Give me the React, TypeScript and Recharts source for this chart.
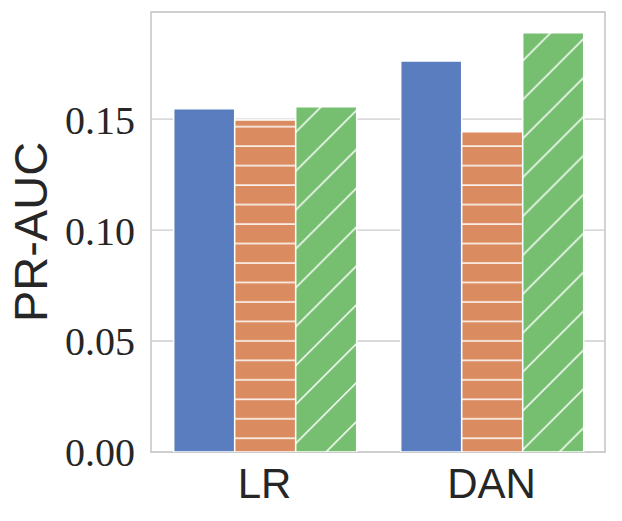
import React from 'react';
import {
  BarChart,
  Bar,
  XAxis,
  YAxis,
  CartesianGrid,
  ReferenceArea,
} from 'recharts';

// values
const categories = ['LR', 'DAN'];
const solidValues = [0.1547, 0.1762];
const hLineValues = [0.1496, 0.1443];
const diagValues = [0.1556, 0.1889];
const yTicks = [0, 0.05, 0.1, 0.15];
const yMax = 0.1983;

const data = categories.map((name, i) => ({
  name,
  solid: solidValues[i],
  hline: hLineValues[i],
  diag: diagValues[i],
}));

const BLUE = '#597DBF';
const ORANGE = '#DA8B5F';
const GREEN = '#76BF71';
const GRID = '#cccccc';
const TEXT = '#262626';

const HATCH_H = 19.475;
const HATCH_D = 38.9;

const YTick = ({ x, y, payload }: any) => (
  <text
    x={x}
    y={y}
    dy="0.36em"
    textAnchor="end"
    fill={TEXT}
    fontFamily="'Liberation Serif', serif"
    fontSize={40}
  >
    {Number(payload.value).toFixed(2)}
  </text>
);

const XTick = ({ x, y, payload }: any) => (
  <text
    x={x}
    y={y}
    dy="0.71em"
    textAnchor="middle"
    fill={TEXT}
    fontFamily="'Liberation Sans', sans-serif"
    fontSize={42}
  >
    {payload.value}
  </text>
);

const YLabel = () => (
  <text
    transform="translate(47,232) rotate(-90)"
    textAnchor="middle"
    fill={TEXT}
    fontFamily="'Liberation Sans', sans-serif"
    fontSize={47}
  >
    PR-AUC
  </text>
);

export default function App() {
  return (
    <div style={{ position: 'absolute', left: 0, top: 0 }}>
      <BarChart
        width={622}
        height={521}
        data={data}
        margin={{ top: 12, right: 17, left: 0, bottom: 0 }}
        barCategoryGap="10%"
        barGap={0}
      >
        <defs>
          <pattern id="hatchH" patternUnits="userSpaceOnUse" width={20} height={HATCH_H}>
            <rect x={0} y={0} width={20} height={HATCH_H} fill={ORANGE} />
            <line x1={-1} y1={9.85} x2={21} y2={9.85} stroke="#fff" strokeWidth={1.5} />
          </pattern>
          <pattern id="hatchD" patternUnits="userSpaceOnUse" width={HATCH_D} height={HATCH_D}>
            <rect x={0} y={0} width={HATCH_D} height={HATCH_D} fill={GREEN} />
            <path
              d={`M0,${HATCH_D} L${HATCH_D},0 M-2,2 L2,-2 M${HATCH_D - 2},${HATCH_D + 2} L${HATCH_D + 2},${HATCH_D - 2}`}
              stroke="#fff"
              strokeWidth={1.5}
            />
          </pattern>
        </defs>
        <CartesianGrid vertical={false} stroke={GRID} strokeWidth={1.4} />
        <XAxis
          dataKey="name"
          height={69}
          axisLine={false}
          tickLine={false}
          tickSize={6}
          tickMargin={10}
          tick={<XTick />}
        />
        <YAxis
          width={151}
          domain={[0, yMax]}
          ticks={yTicks}
          allowDataOverflow
          axisLine={false}
          tickLine={false}
          tickSize={6}
          tickMargin={10}
          tick={<YTick />}
          label={<YLabel />}
        />
        <Bar dataKey="solid" fill={BLUE} stroke="#fff" strokeWidth={1.5} isAnimationActive={false} />
        <Bar dataKey="hline" fill="url(#hatchH)" stroke="#fff" strokeWidth={1.5} isAnimationActive={false} />
        <Bar dataKey="diag" fill="url(#hatchD)" stroke="#fff" strokeWidth={1.5} isAnimationActive={false} />
        <ReferenceArea
          y1={0}
          y2={yMax}
          fill="none"
          stroke={GRID}
          strokeWidth={1.75}
          ifOverflow="visible"
        />
      </BarChart>
    </div>
  );
}
